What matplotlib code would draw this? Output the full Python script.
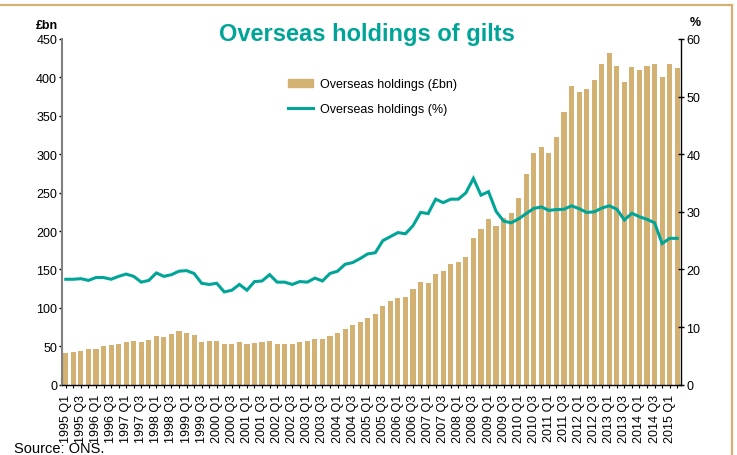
import matplotlib
matplotlib.use('Agg')
import matplotlib.pyplot as plt
from matplotlib.lines import Line2D
from matplotlib.patches import Patch

plt.rcParams['font.family'] = ['Liberation Sans', 'DejaVu Sans']

# quarterly holdings in £bn, 1995 Q1 to 2015 Q2
holdings_bn = [
    41, 42, 44.5, 46, 47, 50, 52, 53.5, 55.8, 57,
    55.8, 58.5, 63, 61.7, 65.7, 69.5, 67, 64.3, 55.5, 57,
    57, 53.3, 53.3, 55.7, 52.5, 54.9, 55.8, 57, 53.2, 53.1,
    53.1, 55.2, 57.4, 59.8, 59.8, 63.5, 67.5, 72.5, 77.2, 81.8,
    87, 91.5, 102.4, 108.9, 112.4, 113.7, 124.5, 133.2, 131.9, 144,
    148, 157.5, 159.7, 166.2, 191, 202.6, 215.2, 206.5, 216.5, 224,
    243, 274, 302, 309, 301, 323, 355, 389, 380.5, 385,
    397, 417, 432, 415, 394, 413, 409.5, 415, 418, 400,
    418, 412,
]

# share of gilts held overseas (%)
holdings_pct = [
    18.3, 18.3, 18.4, 18.1, 18.6, 18.6, 18.3, 18.8, 19.2, 18.8,
    17.8, 18.1, 19.4, 18.8, 19.1, 19.7, 19.8, 19.3, 17.6, 17.4,
    17.6, 16.1, 16.4, 17.4, 16.4, 17.9, 18.0, 19.1, 17.8, 17.8,
    17.4, 17.9, 17.8, 18.5, 18.0, 19.3, 19.7, 20.9, 21.2, 21.9,
    22.7, 22.9, 25.0, 25.7, 26.4, 26.2, 27.6, 29.9, 29.7, 32.2,
    31.6, 32.2, 32.2, 33.3, 35.8, 32.9, 33.5, 30.1, 28.4, 28.1,
    28.8, 29.7, 30.6, 30.85, 30.25, 30.4, 30.45, 31.05, 30.55, 29.9,
    30.0, 30.65, 31.05, 30.45, 28.6, 29.75, 29.15, 28.7, 28.1, 24.5,
    25.4, 25.4,
]

start_year = 1995
quarters = ['%d Q%d' % (start_year + i // 4, i % 4 + 1) for i in range(len(holdings_bn))]

TAN = '#D2B172'
TEAL = '#00A598'


def draw_chart():
    """
    Draw the bar + line chart of overseas gilt holdings and save it.
    """
    fig = plt.figure(figsize=(7.37, 4.56), dpi=100)
    ax = fig.add_axes([62 / 737, 1 - 385.7 / 456, 619 / 737, 345.7 / 456])
    ax2 = ax.twinx()

    x = list(range(len(quarters)))

    # bars for £bn on the left axis
    ax.bar(x, holdings_bn, width=0.68, color=TAN, zorder=2)
    ax.set_xlim(-0.5, len(quarters) - 0.5)
    ax.set_ylim(0, 450)
    ax.set_yticks(range(0, 451, 50))

    # line for % on the right axis
    ax2.plot(x, holdings_pct, color=TEAL, linewidth=2.2, solid_joinstyle='miter')
    ax2.set_ylim(0, 60)
    ax2.set_yticks(range(0, 61, 10))

    # x ticks at every quarter, labels on Q1 and Q3 only
    ax.set_xticks(x)
    ax.set_xticklabels([q if i % 2 == 0 else '' for i, q in enumerate(quarters)],
                       rotation=90, fontsize=9)

    # spines and ticks
    for a in (ax, ax2):
        a.spines['top'].set_visible(False)
    ax.spines['right'].set_visible(False)
    ax.spines['left'].set_color('#808080')
    ax.spines['left'].set_linewidth(1.5)
    ax2.spines['left'].set_visible(False)
    ax2.spines['bottom'].set_visible(False)
    ax2.spines['right'].set_linewidth(1.0)
    ax.spines['bottom'].set_linewidth(1.0)

    ax.tick_params(axis='y', direction='out', length=2.5, width=1, labelsize=9, pad=1)
    ax.tick_params(axis='x', direction='inout', length=4, width=0.8, pad=4.5)
    ax2.tick_params(axis='y', direction='inout', length=4, width=1, labelsize=9, pad=2)

    # unit labels and title
    fig.text(36 / 737, 1 - 26 / 456, '£bn', fontsize=9, fontweight='bold', va='center')
    fig.text(690 / 737, 1 - 23 / 456, '%', fontsize=9, fontweight='bold', va='center')
    fig.text(0.498, 1 - 34 / 456, 'Overseas holdings of gilts', fontsize=17,
             fontweight='bold', color=TEAL, ha='center', va='center')

    # legend
    handles = [Patch(color=TAN, label='Overseas holdings (£bn)'),
               Line2D([], [], color=TEAL, linewidth=2.2, label='Overseas holdings (%)')]
    fig.legend(handles=handles, loc='upper left', bbox_to_anchor=(277 / 737, 1 - 68 / 456),
               frameon=False, fontsize=9, handlelength=2.0, handleheight=0.55,
               handletextpad=0.5, labelspacing=1.05)

    # source note at the bottom edge, below the tick labels
    fig.text(14 / 737, 2.5 / 456, 'Source: ONS.', fontsize=10.5, va='baseline')

    # tan frame on top and right
    fig.add_artist(Line2D([0, 732 / 737], [1 - 6 / 456, 1 - 6 / 456],
                          transform=fig.transFigure, color=TAN, linewidth=1.6))
    fig.add_artist(Line2D([732 / 737, 732 / 737], [1 - 6 / 456, 0],
                          transform=fig.transFigure, color=TAN, linewidth=1.6))

    fig.savefig('out.png', dpi=100)


if __name__ == '__main__':
    draw_chart()
